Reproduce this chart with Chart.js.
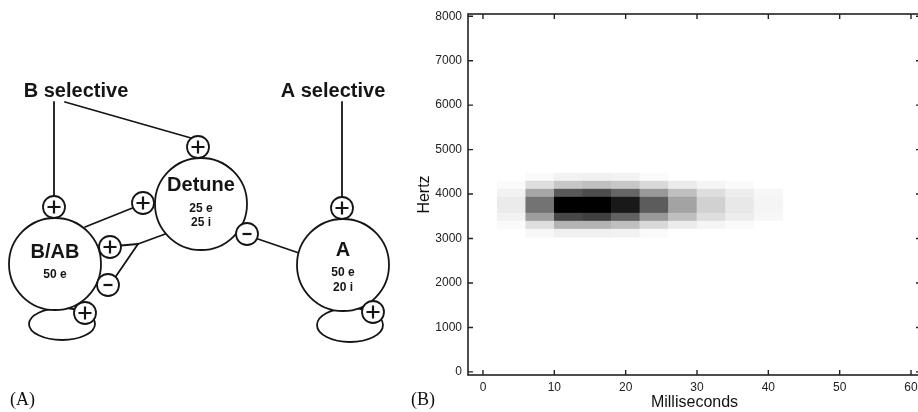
<!DOCTYPE html>
<html>
<head>
<meta charset="utf-8">
<script src="https://cdn.jsdelivr.net/npm/chart.js@4.4.1/dist/chart.umd.min.js"></script>
<style>
  html, body { margin: 0; padding: 0; background: #fff; overflow: hidden; }
  body { width: 918px; height: 412px; position: relative; }
  canvas { position: absolute; top: 0; }
  #diagram { left: 0; }
  #spectro { left: 410px; }
  .panel { position: absolute; font-family: "Liberation Serif", "Times New Roman", serif; font-size: 18px; color: #111; }
</style>
</head>
<body>
<canvas id="diagram" width="410" height="412"></canvas>
<canvas id="spectro" width="520" height="412"></canvas>
<div class="panel" style="left:10px; top:389px;">(A)</div>
<div class="panel" style="left:411px; top:389px;">(B)</div>
<script>
// spectrogram bins (ms, Hz) and grey level 0..1 (1 = black)
const timeBinStarts = [2, 6, 10, 14, 18, 22, 26, 30, 34, 38];
const timeBinWidth = 4;
const freqBinStarts = [3030, 3210, 3390, 3570, 3750, 3930, 4110, 4290];
const freqBinWidth = 180;
// one row per time bin, low -> high frequency
const intensity = [
  [0.00, 0.02, 0.05, 0.08, 0.08, 0.05, 0.02, 0.00],
  [0.03, 0.13, 0.38, 0.55, 0.55, 0.35, 0.13, 0.02],
  [0.06, 0.30, 0.72, 1.00, 1.00, 0.65, 0.22, 0.05],
  [0.06, 0.30, 0.75, 1.00, 1.00, 0.70, 0.25, 0.06],
  [0.05, 0.25, 0.62, 0.90, 0.90, 0.60, 0.22, 0.05],
  [0.02, 0.15, 0.40, 0.64, 0.64, 0.40, 0.15, 0.02],
  [0.00, 0.08, 0.25, 0.36, 0.36, 0.25, 0.08, 0.00],
  [0.00, 0.04, 0.13, 0.18, 0.18, 0.13, 0.04, 0.00],
  [0.00, 0.02, 0.07, 0.09, 0.09, 0.07, 0.02, 0.00],
  [0.00, 0.00, 0.03, 0.04, 0.04, 0.03, 0.00, 0.00]
];
const xTicks = [0, 10, 20, 30, 40, 50, 60];
const yTicks = [0, 1000, 2000, 3000, 4000, 5000, 6000, 7000, 8000];

// diagram layout (pixel coords of panel A)
const nodes = [
  { name: 'B/AB', lines: ['50 e'], x: 55, y: 264, r: 46, ty: 252, ly: [275] },
  { name: 'Detune', lines: ['25 e', '25 i'], x: 201, y: 204, r: 46, ty: 185, ly: [209, 223] },
  { name: 'A', lines: ['50 e', '20 i'], x: 343, y: 265, r: 46, ty: 250, ly: [273, 288] }
];
const synapses = [
  { sign: '+', x: 54, y: 207 }, { sign: '+', x: 198, y: 147 },
  { sign: '+', x: 143, y: 203 }, { sign: '-', x: 247, y: 234 },
  { sign: '+', x: 110, y: 247 }, { sign: '-', x: 108, y: 285 },
  { sign: '+', x: 85, y: 313 }, { sign: '+', x: 342, y: 208 },
  { sign: '+', x: 373, y: 312 }
];
const wires = [
  [[54, 102], [54, 200]],
  [[65, 102], [198, 140]],
  [[342, 102], [342, 200]],
  [[135, 207], [85, 227]],
  [[255, 238], [299, 253]],
  [[115, 246], [138, 244]],
  [[112, 282], [138, 244]],
  [[138, 244], [168, 233]]
];
const loops = [
  { x: 62, y: 324, rx: 33, ry: 16 },
  { x: 350, y: 325, rx: 33, ry: 17 }
];
const inputs = [
  { text: 'B selective', x: 76, y: 91 },
  { text: 'A selective', x: 333, y: 91 }
];

const ink = '#151515';
const sans = '"Liberation Sans", Arial, Helvetica, sans-serif';

function grey(v) {
  const c = Math.round(255 * (1 - v));
  return 'rgb(' + c + ',' + c + ',' + c + ')';
}

// ---------- panel A: network diagram ----------
const diagramPlugin = {
  id: 'diagram',
  afterDraw(chart) {
    const ctx = chart.ctx;
    const sx = v => chart.scales.x.getPixelForValue(v);
    const sy = v => chart.scales.y.getPixelForValue(v);
    ctx.save();
    ctx.strokeStyle = ink;
    ctx.fillStyle = '#fff';
    ctx.lineCap = 'round';

    ctx.lineWidth = 1.8;
    wires.forEach(w => {
      ctx.beginPath();
      ctx.moveTo(sx(w[0][0]), sy(w[0][1]));
      ctx.lineTo(sx(w[1][0]), sy(w[1][1]));
      ctx.stroke();
    });
    loops.forEach(l => {
      ctx.beginPath();
      ctx.ellipse(sx(l.x), sy(l.y), l.rx, l.ry, 0, 0, Math.PI * 2);
      ctx.stroke();
    });
    nodes.forEach(n => {
      ctx.beginPath();
      ctx.arc(sx(n.x), sy(n.y), n.r, 0, Math.PI * 2);
      ctx.fill();
      ctx.stroke();
    });
    synapses.forEach(s => {
      const cx = sx(s.x), cy = sy(s.y);
      ctx.lineWidth = 1.8;
      ctx.beginPath();
      ctx.arc(cx, cy, 11, 0, Math.PI * 2);
      ctx.fill();
      ctx.stroke();
      ctx.lineWidth = 2.2;
      ctx.lineCap = 'butt';
      ctx.beginPath();
      if (s.sign === '+') {
        ctx.moveTo(cx - 6.5, cy); ctx.lineTo(cx + 6.5, cy);
        ctx.moveTo(cx, cy - 6.5); ctx.lineTo(cx, cy + 6.5);
      } else {
        ctx.moveTo(cx - 4.5, cy); ctx.lineTo(cx + 4.5, cy);
      }
      ctx.stroke();
      ctx.lineCap = 'round';
    });

    ctx.fillStyle = ink;
    ctx.textAlign = 'center';
    ctx.textBaseline = 'middle';
    nodes.forEach(n => {
      ctx.font = 'bold 20px ' + sans;
      ctx.fillText(n.name, sx(n.x), sy(n.ty));
      ctx.font = 'bold 12px ' + sans;
      n.lines.forEach((t, i) => ctx.fillText(t, sx(n.x), sy(n.ly[i])));
    });
    ctx.font = 'bold 20px ' + sans;
    inputs.forEach(t => ctx.fillText(t.text, sx(t.x), sy(t.y)));
    ctx.restore();
  }
};

new Chart(document.getElementById('diagram'), {
  type: 'scatter',
  data: { datasets: [] },
  options: {
    responsive: false,
    animation: false,
    devicePixelRatio: 1,
    layout: { padding: 0 },
    plugins: { legend: { display: false }, tooltip: { enabled: false } },
    scales: {
      x: { type: 'linear', min: 0, max: 410, display: false },
      y: { type: 'linear', min: 0, max: 412, reverse: true, display: false }
    }
  },
  plugins: [diagramPlugin]
});

// ---------- panel B: spectrogram ----------
const rowSets = freqBinStarts.map((f, i) => ({
  data: timeBinStarts.map(t => ({ x: t + timeBinWidth / 2, y: [f, f + freqBinWidth] })),
  backgroundColor: timeBinStarts.map((t, j) => grey(intensity[j][i])),
  borderWidth: 0,
  barPercentage: 1,
  categoryPercentage: 1,
  grouped: false
}));

const framePlugin = {
  id: 'frame',
  afterDatasetsDraw(chart) {
    const { ctx, chartArea: a, scales: { x, y } } = chart;
    const tick = 5;
    ctx.save();
    ctx.strokeStyle = '#222';
    ctx.lineWidth = 1.6;
    ctx.strokeRect(a.left, a.top, a.right - a.left, a.bottom - a.top);
    ctx.lineWidth = 1.4;
    ctx.beginPath();
    xTicks.forEach(v => {
      const px = x.getPixelForValue(v);
      ctx.moveTo(px, a.bottom); ctx.lineTo(px, a.bottom - tick);
      ctx.moveTo(px, a.top); ctx.lineTo(px, a.top + tick);
    });
    yTicks.forEach(v => {
      const py = y.getPixelForValue(v);
      ctx.moveTo(a.left, py); ctx.lineTo(a.left + tick, py);
      ctx.moveTo(a.right, py); ctx.lineTo(a.right - tick, py);
    });
    ctx.stroke();
    ctx.restore();
  }
};

const tickFont = { family: sans, size: 12 };

new Chart(document.getElementById('spectro'), {
  type: 'bar',
  data: { datasets: rowSets },
  options: {
    responsive: false,
    animation: false,
    devicePixelRatio: 1,
    layout: { padding: { top: 14, right: 9, left: 0, bottom: 0 } },
    plugins: { legend: { display: false }, tooltip: { enabled: false } },
    scales: {
      x: {
        type: 'linear',
        min: -2.1,
        max: 61.4,
        offset: false,
        afterBuildTicks: s => { s.ticks = xTicks.map(v => ({ value: v })); },
        afterFit: s => { s.height = 37; },
        grid: { display: false, drawTicks: false },
        border: { display: false },
        ticks: { font: tickFont, color: '#222', padding: 5, maxRotation: 0, autoSkip: false, callback: v => String(v) },
        title: { display: true, text: 'Milliseconds', color: '#111', font: { family: sans, size: 16 }, padding: 0 }
      },
      y: {
        type: 'linear',
        min: -70,
        max: 8050,
        afterBuildTicks: s => { s.ticks = yTicks.map(v => ({ value: v })); },
        afterFit: s => { s.width = 58; },
        grid: { display: false, drawTicks: false },
        border: { display: false },
        ticks: { font: tickFont, color: '#222', padding: 6, autoSkip: false, callback: v => String(v) },
        title: { display: true, text: 'Hertz', color: '#111', font: { family: sans, size: 16 }, padding: { top: 5, bottom: 0 } }
      }
    }
  },
  plugins: [framePlugin]
});
</script>
</body>
</html>
